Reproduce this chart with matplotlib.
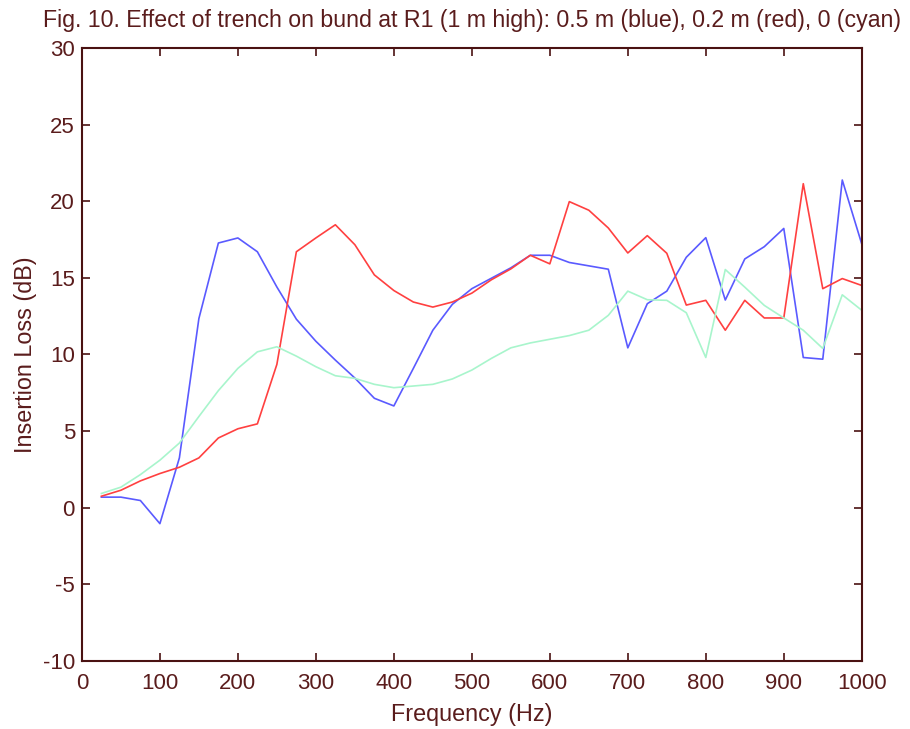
import matplotlib
matplotlib.use("Agg")
import matplotlib.pyplot as plt

freq = list(range(25, 1001, 25))

blue = [0.69, 0.69, 0.47, -1.04, 3.25, 12.34, 17.27, 17.6, 16.7, 14.4,
        12.3, 10.86, 9.63, 8.46, 7.14, 6.64, 9.09, 11.58, 13.27, 14.29,
        14.97, 15.65, 16.47, 16.47, 16.0, 15.78, 15.56, 10.43, 13.31, 14.13,
        16.34, 17.62, 13.55, 16.23, 17.03, 18.22, 9.8, 9.69, 21.38, 17.2]

red = [0.75, 1.14, 1.75, 2.23, 2.64, 3.25, 4.55, 5.15, 5.47, 9.35,
       16.7, 17.6, 18.46, 17.16, 15.19, 14.17, 13.42, 13.09, 13.42, 14.0,
       14.87, 15.58, 16.47, 15.91, 19.97, 19.41, 18.25, 16.62, 17.75, 16.6,
       13.22, 13.53, 11.58, 13.53, 12.38, 12.38, 21.14, 14.29, 14.95, 14.5]

cyan = [0.93, 1.34, 2.16, 3.1, 4.22, 5.95, 7.64, 9.09, 10.17, 10.5,
        9.89, 9.2, 8.61, 8.44, 8.05, 7.83, 7.94, 8.05, 8.4, 8.98,
        9.74, 10.43, 10.75, 10.99, 11.23, 11.58, 12.55, 14.13, 13.57, 13.53,
        12.72, 9.8, 15.54, 14.39, 13.2, 12.38, 11.58, 10.39, 13.89, 12.88]

INK = "#4a1212"
TXT = "#5a1c1c"

plt.rcParams["font.family"] = ["Liberation Sans", "DejaVu Sans"]
plt.rcParams["axes.unicode_minus"] = False

fig = plt.figure(figsize=(9.1, 7.29), dpi=100)
ax = fig.add_axes([0.090, 0.0933, 0.857, 0.841])

ax.plot(freq, blue, color="#5a5aff", lw=1.2)
ax.plot(freq, red, color="#ff4040", lw=1.2)
ax.plot(freq, cyan, color="#a8f5cc", lw=1.2)

ax.set_xlim(0, 1000)
ax.set_ylim(-10, 30)
ax.set_xticks(range(0, 1001, 100))
ax.set_yticks(range(-10, 31, 5))
ax.tick_params(direction="in", top=True, right=True, length=6, width=1.2,
               colors=INK, labelsize=16, labelcolor=TXT)
ax.tick_params(axis="x", pad=9)
ax.tick_params(axis="y", pad=5)
for s in ax.spines.values():
    s.set_color(INK)
    s.set_linewidth(1.5)

ax.set_xlabel("Frequency (Hz)", fontsize=16.8, color=TXT, labelpad=6)
ax.set_ylabel("Insertion Loss (dB)", fontsize=16.8, color=TXT, labelpad=4)
ax.set_title("Fig. 10. Effect of trench on bund at R1 (1 m high): 0.5 m (blue), 0.2 m (red), 0 (cyan)",
             fontsize=16.7, color=TXT, pad=15)

fig.savefig("out.png", dpi=100, facecolor="white")
